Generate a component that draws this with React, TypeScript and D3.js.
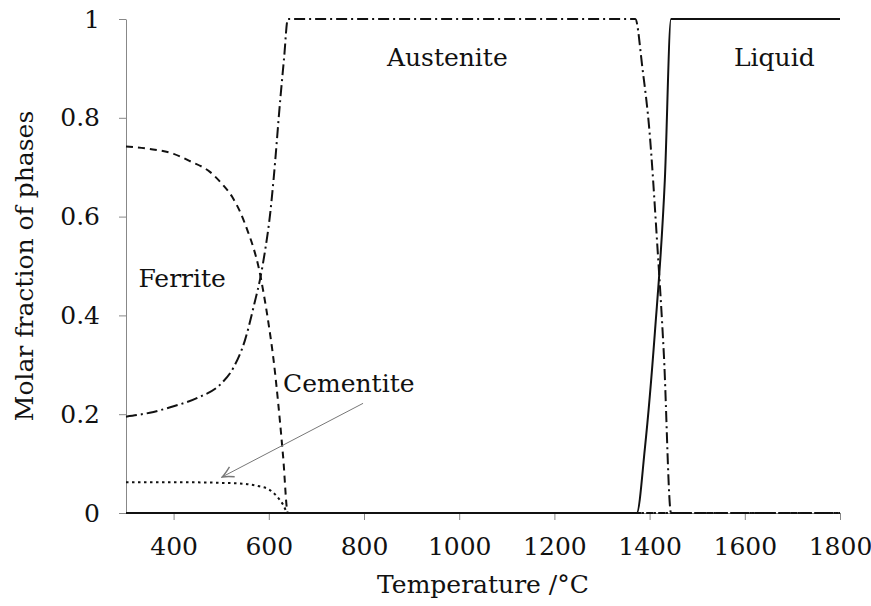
import * as d3 from "d3";
import { useEffect, useRef } from "react";

// temperature in °C, molar fraction of each phase
const ferriteT = [300, 350, 400, 435, 477, 500, 523, 540, 554, 568, 578, 590, 600, 610, 620, 630, 640, 1800];
const ferriteF = [0.742, 0.737, 0.727, 0.712, 0.69, 0.668, 0.64, 0.609, 0.575, 0.536, 0.5, 0.44, 0.38, 0.31, 0.22, 0.115, 0, 0];

const austeniteT = [300, 350, 400, 450, 500, 525, 550, 570, 582, 592, 603, 610, 624, 632, 640, 1370, 1385, 1400, 1415, 1430, 1445, 1800];
const austeniteF = [0.195, 0.203, 0.216, 0.233, 0.262, 0.293, 0.35, 0.425, 0.475, 0.53, 0.607, 0.675, 0.836, 0.92, 1, 1, 0.9, 0.77, 0.56, 0.32, 0, 0];

const cementiteT = [300, 450, 500, 550, 580, 600, 615, 630, 640, 1800];
const cementiteF = [0.062, 0.062, 0.061, 0.059, 0.054, 0.048, 0.036, 0.017, 0, 0];

const liquidT = [300, 1373, 1390, 1411, 1432, 1445, 1800];
const liquidF = [0, 0, 0.13, 0.364, 0.674, 1, 1];

const xTicks = [400, 600, 800, 1000, 1200, 1400, 1600, 1800];
const yTicks = [0, 0.2, 0.4, 0.6, 0.8, 1];

const FONT = "'DejaVu Serif', serif";
const FS = 25;

export default function App() {
  const svgRef = useRef<SVGSVGElement>(null);

  useEffect(() => {
    const width = 871;
    const height = 606;
    const margin = { top: 19, right: 31, bottom: 93, left: 126 };

    const svg = d3.select(svgRef.current).attr("width", width).attr("height", height);
    svg.selectAll("*").remove();

    const x = d3.scaleLinear().domain([300, 1800]).range([margin.left, width - margin.right]);
    const y = d3.scaleLinear().domain([0, 1]).range([height - margin.bottom, margin.top]);

    svg
      .append("defs")
      .append("marker")
      .attr("id", "arrowhead")
      .attr("viewBox", "0 0 10 10")
      .attr("refX", 9)
      .attr("refY", 5)
      .attr("markerWidth", 14)
      .attr("markerHeight", 14)
      .attr("markerUnits", "userSpaceOnUse")
      .attr("orient", "auto")
      .append("path")
      .attr("d", "M1,1 Q6,4 9,5 Q6,6 1,9")
      .attr("fill", "none")
      .attr("stroke", "#777")
      .attr("stroke-width", 1);

    // axes
    const gx = svg
      .append("g")
      .attr("transform", `translate(0,${y(0)})`)
      .call(
        d3
          .axisBottom(x)
          .tickValues(xTicks)
          .tickFormat(d3.format("d"))
          .tickSizeInner(7)
          .tickSizeOuter(0)
          .tickPadding(17)
      );
    gx.attr("font-family", FONT).attr("font-size", FS);
    gx.select(".domain").attr("stroke", "#888");
    gx.selectAll(".tick line").attr("stroke", "#888");
    gx.selectAll("text").attr("fill", "#111");

    const gy = svg
      .append("g")
      .attr("transform", `translate(${x(300)},0)`)
      .call(
        d3
          .axisLeft(y)
          .tickValues(yTicks)
          .tickFormat(d3.format(""))
          .tickSizeInner(7)
          .tickSizeOuter(0)
          .tickPadding(19)
      );
    gy.attr("font-family", FONT).attr("font-size", FS);
    gy.select(".domain").attr("stroke", "#888");
    gy.selectAll(".tick line").attr("stroke", "#888");
    gy.selectAll("text").attr("fill", "#111");

    // phase curves
    const line = d3
      .line<[number, number]>()
      .x((d) => x(d[0]))
      .y((d) => y(d[1]))
      .curve(d3.curveMonotoneX);

    const series = [
      { t: ferriteT, f: ferriteF, dash: "7,5" },
      { t: austeniteT, f: austeniteF, dash: "11,4,2,4" },
      { t: cementiteT, f: cementiteF, dash: "2.5,3.5" },
      { t: liquidT, f: liquidF, dash: null },
    ];

    series.forEach((s) => {
      svg
        .append("path")
        .datum(s.t.map((t, i) => [t, s.f[i]] as [number, number]))
        .attr("d", line)
        .attr("fill", "none")
        .attr("stroke", "#111")
        .attr("stroke-width", 2)
        .attr("stroke-dasharray", s.dash);
    });

    // labels
    const label = (text: string, t: number, f: number, anchor: string) =>
      svg
        .append("text")
        .attr("x", x(t))
        .attr("y", y(f))
        .attr("text-anchor", anchor)
        .attr("font-family", FONT)
        .attr("font-size", FS)
        .attr("fill", "#111")
        .text(text);

    label("Austenite", 975, 0.905, "middle");
    label("Liquid", 1662, 0.905, "middle");
    label("Ferrite", 326, 0.4575, "start");
    label("Cementite", 630, 0.245, "start");

    svg
      .append("line")
      .attr("x1", x(798))
      .attr("y1", y(0.222))
      .attr("x2", x(502))
      .attr("y2", y(0.073))
      .attr("stroke", "#777")
      .attr("stroke-width", 1)
      .attr("marker-end", "url(#arrowhead)");

    svg
      .append("text")
      .attr("x", (margin.left + width - margin.right) / 2)
      .attr("y", 593)
      .attr("text-anchor", "middle")
      .attr("font-family", FONT)
      .attr("font-size", FS)
      .attr("fill", "#111")
      .text("Temperature /°C");

    svg
      .append("text")
      .attr("transform", `translate(33,${(margin.top + height - margin.bottom) / 2}) rotate(-90)`)
      .attr("text-anchor", "middle")
      .attr("font-family", FONT)
      .attr("font-size", FS)
      .attr("fill", "#111")
      .text("Molar fraction of phases");
  }, []);

  return (
    <div style={{ position: "absolute", left: 0, top: 0, background: "#fff" }}>
      <svg ref={svgRef}></svg>
    </div>
  );
}
